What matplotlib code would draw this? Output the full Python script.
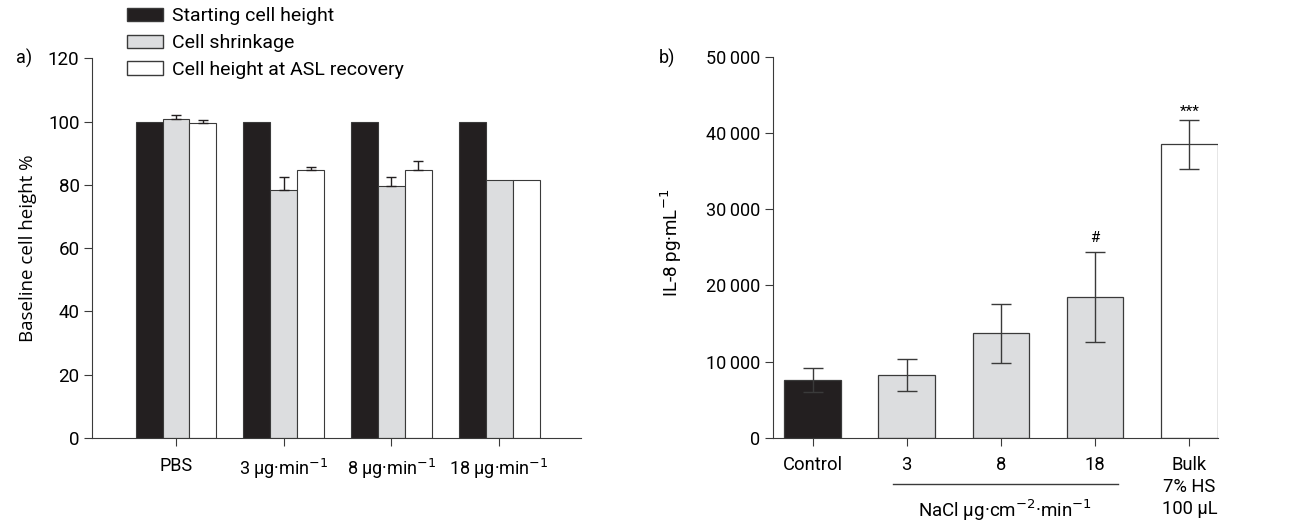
import numpy as np
import matplotlib
matplotlib.use("Agg")
import matplotlib.pyplot as plt
from matplotlib.patches import Patch
from matplotlib.lines import Line2D

plt.rcParams['font.family'] = ['Roboto', 'DejaVu Sans']
plt.rcParams['font.size'] = 12.5

# panel a data
groups_a = ['PBS', '3 µg·min$^{-1}$', '8 µg·min$^{-1}$', '18 µg·min$^{-1}$']
start_h = [100, 100, 100, 100]
shrink = [100.8, 78.2, 79.6, 81.6]
shrink_err = [1.2, 4.3, 2.8, 0]
recov = [99.4, 84.6, 84.6, 81.6]
recov_err = [1.0, 1.0, 2.9, 0]
series_a = ['Starting cell height', 'Cell shrinkage', 'Cell height at ASL recovery']

# panel b data
groups_b = ['Control', '3', '8', '18', 'Bulk\n7% HS\n100 µL']
il8 = [7600, 8300, 13700, 18500, 38500]
il8_err = [1600, 2100, 3900, 5900, 3200]
marks_b = ['', '', '', '#', '***']

BLACK = '#231f20'
GREY = '#dcdddf'
EDGE = '#3a3a3a'

fig = plt.figure(figsize=(12.98, 5.23), dpi=100)

# ---- panel a
axa = fig.add_axes([0.0709, 0.163, 0.3767, 0.7255])
x = np.arange(len(groups_a))
w = 0.25
axa.bar(x - w, start_h, w, color=BLACK, edgecolor=EDGE, linewidth=0.8)
axa.bar(x, shrink, w, color=GREY, edgecolor=EDGE, linewidth=0.8)
axa.bar(x + w, recov, w, color='white', edgecolor=EDGE, linewidth=0.8)
for xi, v, e in zip(x, shrink, shrink_err):
    if e > 0:
        axa.errorbar(xi, v, yerr=[[0], [e]], color=BLACK, capsize=3.7, lw=1, capthick=1)
for xi, v, e in zip(x + w, recov, recov_err):
    if e > 0:
        axa.errorbar(xi, v, yerr=[[0], [e]], color=BLACK, capsize=3.7, lw=1, capthick=1)
axa.set_xlim(-0.78, 3.76)
axa.set_ylim(0, 120)
axa.set_yticks(range(0, 121, 20))
axa.set_xticks(x)
axa.set_xticklabels(groups_a)
axa.set_ylabel('Baseline cell height %', family=['Open Sans', 'DejaVu Sans'], fontsize=13.5)
axa.yaxis.set_label_coords(-0.112, 0.5)
for s in ['top', 'right']:
    axa.spines[s].set_visible(False)
for s in ['left', 'bottom']:
    axa.spines[s].set_color(EDGE)
axa.tick_params(direction='out', length=6, color=EDGE, pad=3)
axa.tick_params(axis='y', labelsize=13.5)
axa.tick_params(axis='x', pad=8, labelsize=13)

handles = [Patch(facecolor=BLACK, edgecolor=EDGE), Patch(facecolor=GREY, edgecolor=EDGE),
           Patch(facecolor='white', edgecolor=EDGE)]
fig.legend(handles, series_a, loc='upper left', bbox_to_anchor=(0.0978, 0.986), frameon=False,
           fontsize=14, handlelength=1.85, handleheight=0.67, handletextpad=0.46, labelspacing=0.45,
           borderaxespad=0, borderpad=0)
fig.text(0.012, 0.889, 'a)', fontsize=13, va='center')

# ---- panel b
axb = fig.add_axes([0.5955, 0.163, 0.3425, 0.7285])
xb = np.arange(len(groups_b))
colors_b = [BLACK, GREY, GREY, GREY, 'white']
axb.bar(xb, il8, 0.6, color=colors_b, edgecolor=EDGE, linewidth=0.9)
axb.errorbar(xb, il8, yerr=il8_err, fmt='none', ecolor=EDGE, capsize=7, lw=1, capthick=1)
for xi, v, e, m in zip(xb, il8, il8_err, marks_b):
    if m:
        off = 900 if m == '#' else 100
        axb.text(xi, v + e + off, m, ha='center', va='bottom', fontsize=11)
axb.set_xlim(-0.42, 4.3)
axb.set_ylim(0, 50000)
axb.set_yticks(range(0, 50001, 10000))
axb.set_yticklabels(['0', '10\u2009000', '20\u2009000', '30\u2009000', '40\u2009000', '50\u2009000'])
axb.set_ylabel('IL-8 pg·mL$^{-1}$', fontsize=13.5)
axb.yaxis.set_label_coords(-0.2, 0.511)
for s in ['top', 'right']:
    axb.spines[s].set_visible(False)
for s in ['left', 'bottom']:
    axb.spines[s].set_color(EDGE)
axb.tick_params(direction='out', length=6, color=EDGE, pad=3)
axb.tick_params(axis='y', labelsize=13)
axb.tick_params(axis='x', pad=7)
axb.set_xticks(xb)
axb.set_xticklabels(groups_b, linespacing=1.3, va='top', fontsize=13.2)
fig.text(659 / 1298, 0.889, 'b)', fontsize=13, va='center')

# bracket below the NaCl groups
line = Line2D([893 / 1298, 1118 / 1298], [1 - 484 / 523, 1 - 484 / 523],
              color=EDGE, lw=1, transform=fig.transFigure)
fig.add_artist(line)
fig.text(1005 / 1298, 1 - 510 / 523, 'NaCl µg·cm$^{-2}$·min$^{-1}$', ha='center', va='center', fontsize=13.5)

fig.savefig('out.png', dpi=100)
